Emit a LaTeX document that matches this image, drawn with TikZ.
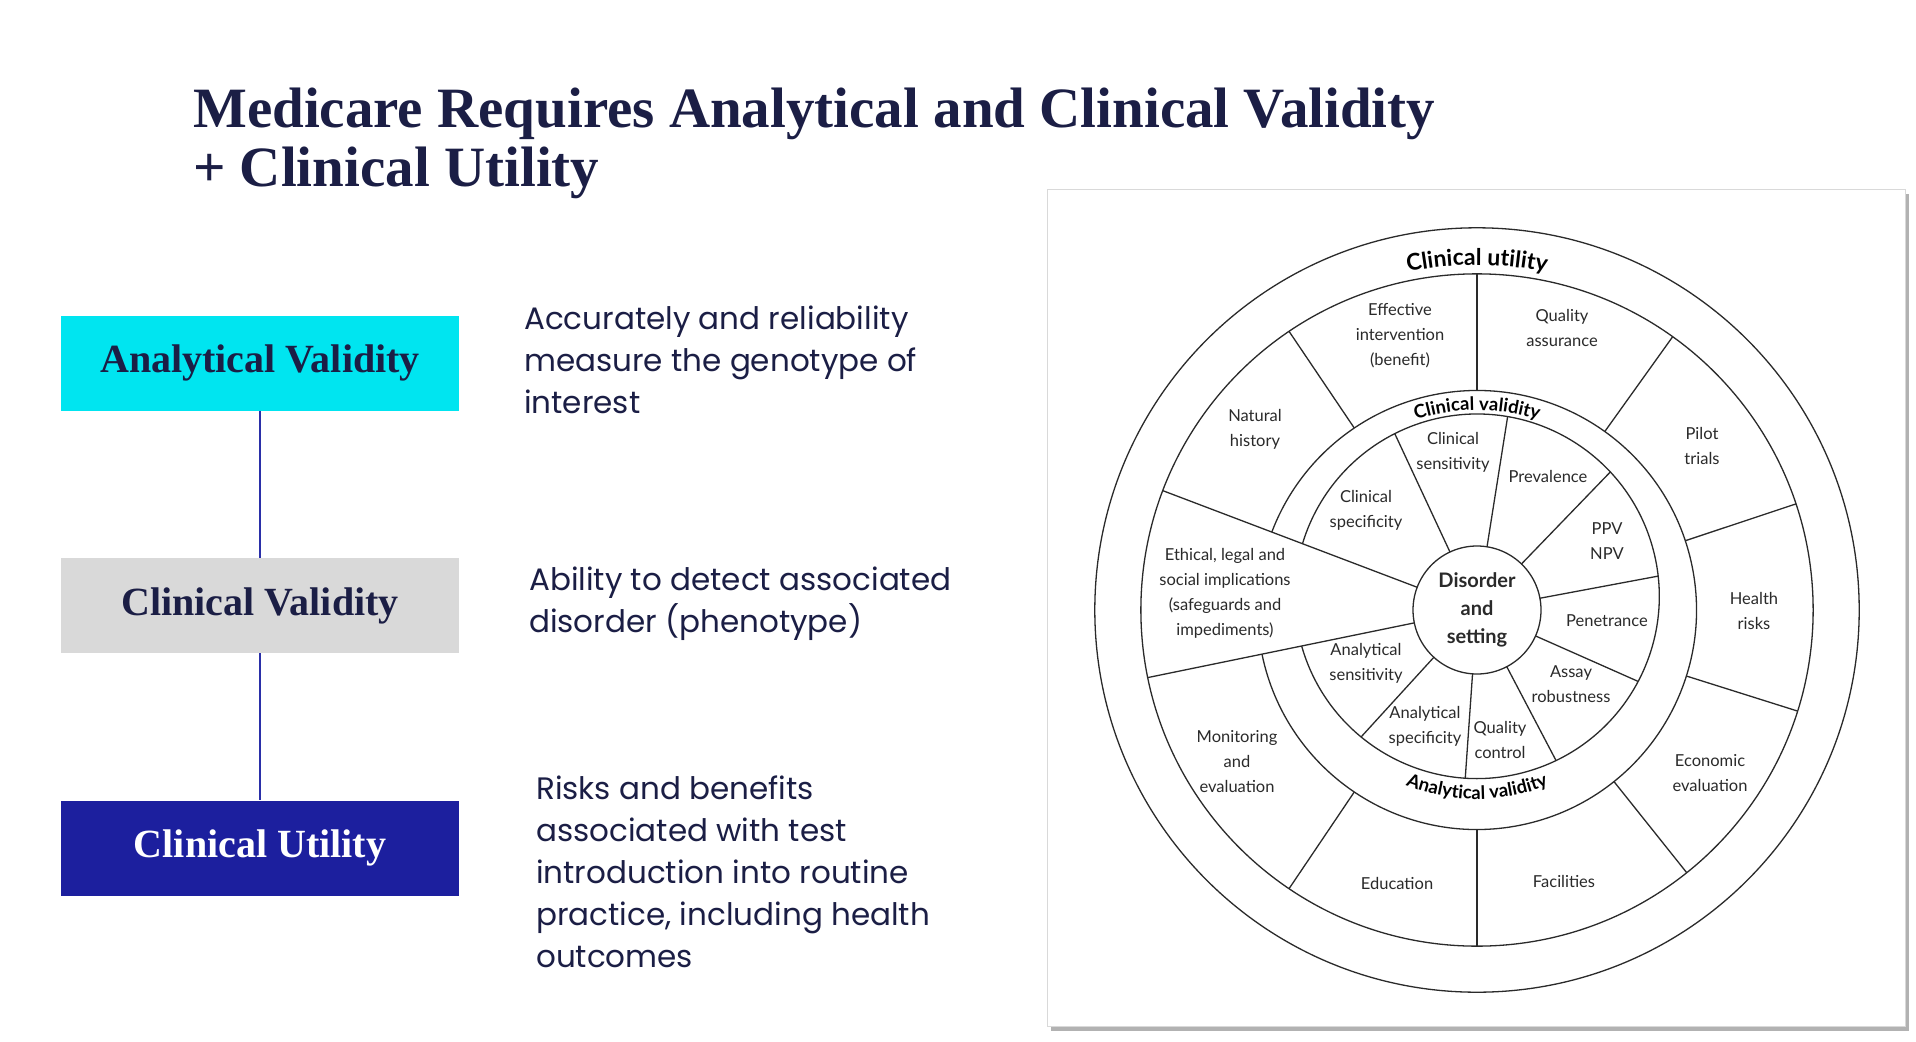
\documentclass[tikz,border=0pt]{standalone}
\usepackage{fontspec}
\setmainfont{Liberation Serif}
\newfontfamily\bodyfont{Poppins}
\newfontfamily\wheelfont{Lato}
\usetikzlibrary{decorations.text,calc}
\definecolor{navy}{HTML}{1B1E45}
\definecolor{cyanbox}{HTML}{00E5F0}
\definecolor{graybox}{HTML}{D9D9D9}
\definecolor{bluebox}{HTML}{1C1F9E}
\definecolor{linkc}{HTML}{2A2FA8}
\definecolor{wheelc}{HTML}{2A2A2A}
\tikzset{
  boxlbl/.style={minimum width=398pt,minimum height=95pt,inner sep=0pt,font=\fontsize{40}{46}\selectfont\bfseries},
  desc/.style={anchor=north west,align=left,inner sep=0pt,text=navy,font=\bodyfont\fontsize{31}{42}\selectfont},
  wl/.style={align=center,inner sep=0pt,text=wheelc,font=\wheelfont\fontsize{16.5}{25}\selectfont},
  wline/.style={draw=wheelc,line width=1.3pt},
}
\begin{document}
\begin{tikzpicture}[x=1pt,y=1pt]
\useasboundingbox (0,0) rectangle (1916,-1041);
\fill[white] (0,0) rectangle (1916,-1041);
% title
\node[anchor=base west,inner sep=0pt,text=navy,font=\fontsize{57}{64}\selectfont\bfseries] (t1) at (193,-127) {Medicare Requires Analytical and Clinical Validity};
\node[anchor=base west,inner sep=0pt,text=navy,font=\fontsize{57}{64}\selectfont\bfseries] (t2) at (193,-186) {+ Clinical Utility};
% boxes
\node[boxlbl,fill=cyanbox,text=navy] (av) at (260,-363) {Analytical Validity};
\node[boxlbl,fill=graybox,text=navy] (cv) at (260,-605.5) {Clinical Validity};
\node[boxlbl,fill=bluebox,text=white] (cu) at (260,-848) {Clinical Utility};
\draw[linkc,line width=1.5pt] (av.south) -- (cv.north);
\draw[linkc,line width=1.5pt] (cv.south) -- (cu.north);
\node[desc] (d1) at (524,-306) {Accurately and reliability\\measure the genotype of\\interest};
\node[desc] (d2) at (529,-567) {Ability to detect associated\\disorder (phenotype)};
\node[desc] (d3) at (536,-776) {Risks and benefits\\associated with test\\introduction into routine\\practice, including health\\outcomes};
% panel
\fill[black!30] (1051,-194) rectangle (1909,-1031);
\fill[white,draw=black!15] (1047,-189) rectangle (1905,-1026);
\begin{scope}[shift={(1477,-610)},scale=0.98]
\draw[wline] (0,0) circle (390);
\draw[wline] (0,0) circle (343);
\node[wl,draw=wheelc,line width=1.3pt,circle,minimum size=128pt,font=\wheelfont\fontsize{20}{28}\selectfont\bfseries] (ds) at (0,0) {Disorder\\and\\setting};
\draw[wline] (-168.4:224) arc[start angle=-168.4,end angle=159.2,radius=224];
\draw[wline] ($(0,14)+(-164.2:186)$) arc[start angle=-164.2,end angle=163.25,radius=186];
\draw[wline] (159.2:65) -- (159.2:343);
\draw[wline] (-168.4:65) -- (-168.4:343);
\foreach \a in {90,124,54.4,18.4,-17.5,-51.4,-90,-124}
  \draw[wline] (\a:224) -- (\a:343);
\foreach \a in {115,81,46,10.6,-23.9,-62.3,-94,-132.4}{
  \pgfmathsetmacro\rr{14*sin(\a)+100*sqrt(3.4596-0.0196*cos(\a)^2)}
  \draw[wline] (\a:65) -- (\a:\rr);
}
\path[decorate,decoration={text along path,text align=center,text format delimiters={|}{|},text={|\wheelfont\fontsize{23}{23}\selectfont\bfseries|Clinical utility}}] (114:352) arc[start angle=114,end angle=66,radius=352];
\path[decorate,decoration={text along path,text align=center,text format delimiters={|}{|},text={|\wheelfont\fontsize{18.5}{18}\selectfont\bfseries|Clinical validity}}] (112:204) arc[start angle=112,end angle=68,radius=204];
\path[decorate,decoration={text along path,text align=center,text format delimiters={|}{|},text={|\wheelfont\fontsize{18.5}{18}\selectfont\bfseries|Analytical validity}}] (236:193) arc[start angle=236,end angle=304,radius=193];
\end{scope}
\begin{scope}[shift={(-4,10)}]
% outer labels
\node[wl] (l1) at (1404,-346) {Effective\\intervention\\(benefit)};
\node[wl] (l2) at (1566,-338) {Quality\\assurance};
\node[wl] (l3) at (1259,-439) {Natural\\history};
\node[wl] (l4) at (1706,-456) {Pilot\\trials};
\node[wl] (l5) at (1229,-603) {Ethical, legal and\\social implications\\(safeguards and\\impediments)};
\node[wl] (l6) at (1758,-621) {Health\\risks};
\node[wl] (l7) at (1241,-772) {Monitoring\\and\\evaluation};
\node[wl] (l8) at (1714,-783) {Economic\\evaluation};
\node[wl] (l9) at (1401,-893) {Education};
\node[wl] (l10) at (1568,-891) {Facilities};
% inner labels
\node[wl] (i1) at (1457,-462) {Clinical\\sensitivity};
\node[wl] (i2) at (1552,-486) {Prevalence};
\node[wl] (i3) at (1370,-520) {Clinical\\specificity};
\node[wl] (i4) at (1611,-551) {PPV\\NPV};
\node[wl] (i5) at (1611,-631) {Penetrance};
\node[wl] (i6) at (1575,-694) {Assay\\robustness};
\node[wl] (i7) at (1370,-673) {Analytical\\sensitivity};
\node[wl] (i8) at (1429,-736) {Analytical\\specificity};
\node[wl] (i9) at (1504,-750) {Quality\\control};
\end{scope}
\end{tikzpicture}
\end{document}
